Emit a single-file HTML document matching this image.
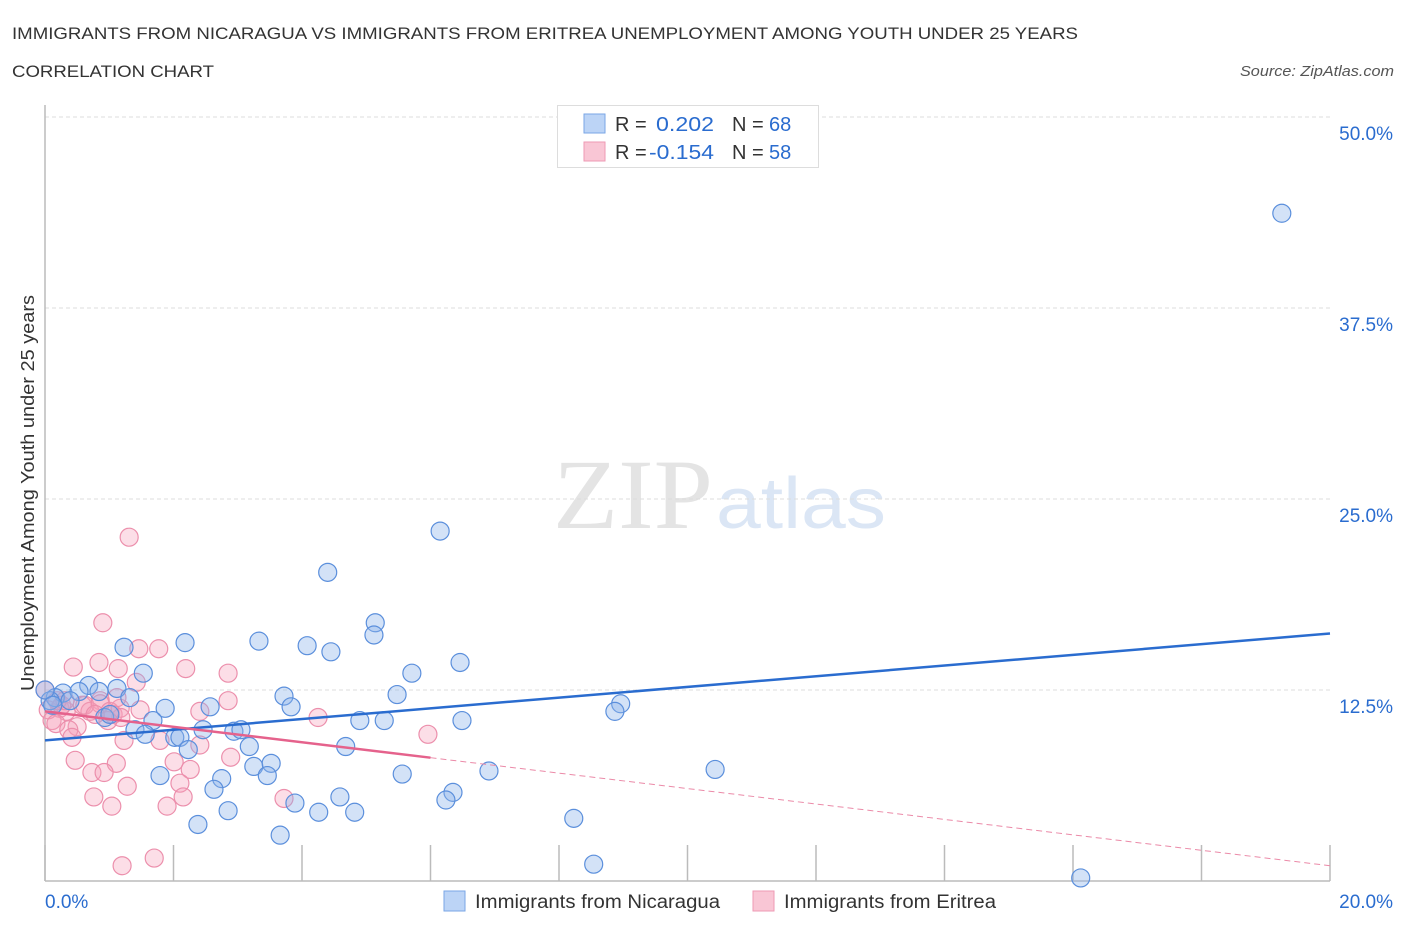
<!DOCTYPE html>
<html><head><meta charset="utf-8"><style>
body{margin:0;background:#fff;font-family:"Liberation Sans",sans-serif;}
svg{display:block}
</style></head><body>
<svg width="1406" height="930" xmlns="http://www.w3.org/2000/svg" id="chart">
<text x="12" y="39" font-size="17" fill="#333" textLength="1066" lengthAdjust="spacingAndGlyphs">IMMIGRANTS FROM NICARAGUA VS IMMIGRANTS FROM ERITREA UNEMPLOYMENT AMONG YOUTH UNDER 25 YEARS</text>
<text x="12" y="77" font-size="17" fill="#333" textLength="202" lengthAdjust="spacingAndGlyphs">CORRELATION CHART</text>
<text x="1394" y="76" font-size="15" fill="#555" font-style="italic" text-anchor="end" textLength="154" lengthAdjust="spacingAndGlyphs">Source: ZipAtlas.com</text>
<g>
<text x="553" y="528" font-family="Liberation Serif,serif" font-size="100" fill="#e4e4e4" textLength="160" lengthAdjust="spacingAndGlyphs">ZIP</text>
<text x="716" y="528" font-size="72" fill="#dbe6f5" textLength="170" lengthAdjust="spacingAndGlyphs">atlas</text>
</g>
<g id="grid"></g>
<g id="axes"></g>
<g id="marks"></g>
<g id="legend">
<rect x="557.5" y="105.5" width="261" height="62" fill="#fff" stroke="#ddd"/>
<rect x="584" y="114" width="21" height="19" fill="#bcd4f6" stroke="#7aa6e6"/>
<rect x="584" y="142" width="21" height="19" fill="#f9c6d5" stroke="#ee9ab4"/>
<text x="615" y="131" font-size="20" fill="#333">R = </text><text x="656" y="131" font-size="20" fill="#2a6ccf" textLength="58" lengthAdjust="spacingAndGlyphs">0.202</text>
<text x="732" y="131" font-size="20" fill="#333">N = </text><text x="769" y="131" font-size="20" fill="#2a6ccf">68</text>
<text x="615" y="159" font-size="20" fill="#333">R = </text><text x="649" y="159" font-size="20" fill="#2a6ccf" textLength="65" lengthAdjust="spacingAndGlyphs">-0.154</text>
<text x="732" y="159" font-size="20" fill="#333">N = </text><text x="769" y="159" font-size="20" fill="#2a6ccf">58</text>
</g>
<g>
<rect x="444" y="891" width="21" height="20" fill="#bcd4f6" stroke="#7aa6e6"/>
<text x="475" y="908" font-size="19" fill="#333" textLength="245" lengthAdjust="spacingAndGlyphs">Immigrants from Nicaragua</text>
<rect x="753" y="891" width="21" height="20" fill="#f9c6d5" stroke="#ee9ab4"/>
<text x="784" y="908" font-size="19" fill="#333" textLength="212" lengthAdjust="spacingAndGlyphs">Immigrants from Eritrea</text>
</g>
<text transform="translate(34,493) rotate(-90)" font-size="18" fill="#333" text-anchor="middle" textLength="396" lengthAdjust="spacingAndGlyphs">Unemployment Among Youth under 25 years</text>
</svg>
<script>
const yTicks=[12.5,25,37.5,50];
const yTickLabels=["12.5%","25.0%","37.5%","50.0%"];
const xTicks=[0,2,4,6,8,10,12,14,16,18,20];
const blueX=[19.25,6.15,4.40,5.14,5.12,2.18,3.33,4.08,4.45,1.23,6.46,5.71,1.53,0.68,1.12,0.28,0.53,0.84,0.16,0.08,1.32,3.72,2.57,3.83,5.48,8.96,8.87,1.87,1.68,4.90,5.28,6.49,0.93,1.01,1.40,1.56,2.02,2.10,2.46,2.94,3.05,3.18,4.68,2.23,3.25,3.52,1.79,2.75,3.46,5.56,6.91,10.43,2.63,4.59,6.35,6.24,3.89,2.85,4.26,4.82,2.38,8.23,3.66,8.54,16.12,0.0,0.39,0.12];
const blueY=[43.7,22.9,20.2,16.9,16.1,15.6,15.7,15.4,15.0,15.3,14.3,13.6,13.6,12.8,12.6,12.3,12.4,12.4,12.0,11.8,12.0,12.1,11.4,11.4,12.2,11.6,11.1,11.3,10.5,10.5,10.5,10.5,10.7,10.9,9.9,9.6,9.4,9.4,9.9,9.8,9.9,8.8,8.8,8.6,7.5,7.7,6.9,6.7,6.9,7.0,7.2,7.3,6.0,5.5,5.8,5.3,5.1,4.6,4.5,4.5,3.7,4.1,3.0,1.1,0.2,12.5,11.8,11.5];
const pinkX=[1.31,0.90,1.46,1.77,0.44,0.84,1.14,2.19,2.85,1.42,0.0,0.86,0.05,0.23,0.33,0.58,0.70,1.06,1.17,1.18,0.98,0.11,0.17,0.50,0.37,2.41,2.85,4.25,5.96,1.23,1.79,2.89,0.47,1.11,2.01,2.26,0.73,0.92,2.10,1.28,0.76,2.15,3.72,1.04,1.90,1.70,1.20,0.26,0.62,0.86,1.01,0.19,0.78,0.31,2.41,0.42,1.48,1.12];
const pinkY=[22.5,16.9,15.2,15.2,14.0,14.3,13.9,13.9,13.6,13.0,12.5,11.8,11.2,11.3,11.1,11.5,11.1,10.9,11.3,10.7,10.5,10.5,10.3,10.1,9.9,11.1,11.8,10.7,9.6,9.2,9.2,8.1,7.9,7.7,7.8,7.3,7.1,7.1,6.4,6.2,5.5,5.5,5.4,4.9,4.9,1.5,1.0,11.5,11.5,11.6,11.1,11.8,10.9,11.8,8.9,9.4,11.2,12.0];
const blueTrend=[9.2,16.2];
const pinkTrend=[11.1,1.0];
const pinkSolidEnd=6;

const NS="http://www.w3.org/2000/svg";
const X=v=>45+v/20*1285;
const Y=v=>881-v/50*764;
function mk(tag,attrs,parent){const e=document.createElementNS(NS,tag);for(const k in attrs)e.setAttribute(k,attrs[k]);parent.appendChild(e);return e;}
const grid=document.getElementById('grid'),axes=document.getElementById('axes'),marks=document.getElementById('marks');
yTicks.forEach((t,i)=>{
 const l=mk('line',{x1:45,x2:1330,y1:Y(t),y2:Y(t),stroke:'#ddd','stroke-dasharray':'4,3'},grid);
 
 
 const tx=mk('text',{x:1393,y:Y(t)+23,'font-size':19,fill:'#2a6ccf','text-anchor':'end'},axes);
 tx.textContent=yTickLabels[i];
 
 
});
xTicks.forEach(t=>{
 const l=mk('line',{x1:X(t),x2:X(t),y1:845,y2:881,stroke:'#bbb','stroke-width':1.5},axes);
 
 
});
const ya=mk('line',{x1:45,x2:45,y1:105,y2:881,stroke:'#bbb','stroke-width':1.5},axes);


const xa=mk('line',{x1:45,x2:1330,y1:881,y2:881,stroke:'#bbb','stroke-width':1.5},axes);


const xl0=mk('text',{x:45,y:908,'font-size':19,fill:'#2a6ccf'},axes);xl0.textContent='0.0%';


const xl1=mk('text',{x:1393,y:908,'font-size':19,fill:'#2a6ccf','text-anchor':'end'},axes);xl1.textContent='20.0%';


pinkX.forEach((v,i)=>{
 const c=mk('circle',{cx:X(v),cy:Y(pinkY[i]),r:9,fill:'rgba(245,160,185,0.35)',stroke:'#ec8fac','stroke-width':1.2},marks);
 
 
});
blueX.forEach((v,i)=>{
 const c=mk('circle',{cx:X(v),cy:Y(blueY[i]),r:9,fill:'rgba(140,180,235,0.38)',stroke:'#5b8fdc','stroke-width':1.2},marks);
 
 
});
const bt=mk('line',{x1:X(0),y1:Y(blueTrend[0]),x2:X(20),y2:Y(blueTrend[1]),stroke:'#2a6ccf','stroke-width':2.5},marks);


const pm=pinkTrend[0]+(pinkTrend[1]-pinkTrend[0])*pinkSolidEnd/20;
const pt=mk('line',{x1:X(0),y1:Y(pinkTrend[0]),x2:X(pinkSolidEnd),y2:Y(pm),stroke:'#e5628c','stroke-width':2.5},marks);


const pd=mk('line',{x1:X(pinkSolidEnd),y1:Y(pm),x2:X(20),y2:Y(pinkTrend[1]),stroke:'#eb8aa8','stroke-width':1,'stroke-dasharray':'6,4'},marks);


</script>
</body></html>
